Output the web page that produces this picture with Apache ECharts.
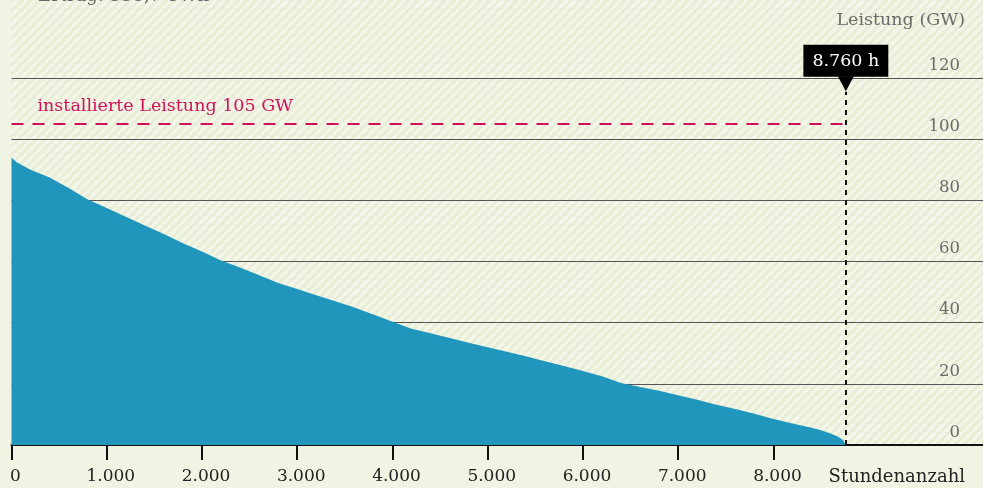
<!DOCTYPE html>
<html><head><meta charset="utf-8">
<script src="https://cdn.jsdelivr.net/npm/echarts@6/dist/echarts.min.js"></script>
<style>html,body{margin:0;padding:0;background:#f0f4e2;}#c{width:983px;height:488px;}</style>
</head><body><div id="c"></div>
<script>
// Data
var hours = [0,50,200,400,600,800,1000,1200,1400,1600,1800,2000,2200,2400,2600,2800,3000,3200,3400,3600,3800,4000,4200,4400,4600,4800,5000,5200,5400,5600,5800,6000,6200,6400,6600,6800,7000,7200,7400,7600,7800,8000,8200,8400,8500,8600,8680,8730,8760];
var power = [94,92.5,90,87.5,84,80.3,77.5,74.6,71.8,69,66,63.3,60.3,58,55.5,53,51,49,47,45,42.7,40.3,38,36.5,35,33.4,32,30.5,29,27.4,25.8,24.2,22.5,20.3,19,17.7,16.3,14.8,13.2,11.8,10.2,8.5,7,5.6,4.8,3.8,2.7,1.6,0];
var xTicks = [0,1000,2000,3000,4000,5000,6000,7000,8000];
var xTickLabels = ['0','1.000','2.000','3.000','4.000','5.000','6.000','7.000','8.000'];
var yTicks = [0,20,40,60,80,100,120];
var installed = 105;
var totalHours = 8760;
var titleText = 'Ertrag: 338,7 TWh';

var FONT = 'DejaVu Serif';
var chart = echarts.init(document.getElementById('c'));

// hatch pattern
var tile = document.createElement('canvas');
var P = 9; tile.width = P; tile.height = P;
var g = tile.getContext('2d');
g.fillStyle = '#e8eed6'; g.fillRect(0,0,P,P);
g.strokeStyle = '#f3f6e8'; g.lineWidth = 3.5;
for (var k=-1;k<=1;k++){ g.beginPath(); g.moveTo(k*P, P); g.lineTo(k*P+P, 0); g.stroke(); }

var data = hours.map(function(h,i){return [h, power[i]];});

chart.setOption({
  animation:false,
  backgroundColor:'#f0f4e2',
  grid:{left:11.5,right:0,top:78,bottom:43},
  graphic:[
    {type:'rect', z:-100, shape:{x:11,y:0,width:972,height:445}, style:{fill:{image:tile, repeat:'repeat'}}},
    {type:'text', left:38, top:-13, style:{text:titleText, font:'18px "DejaVu Serif"', fill:'#6b6b6b'}},
    {type:'text', right:18, top:11, style:{text:'Leistung (GW)', font:'17.5px "DejaVu Serif"', fill:'#6b6b6b'}},
    {type:'text', right:18, top:468, style:{text:'Stundenanzahl', font:'18px "DejaVu Serif"', fill:'#222'}}
  ],
  xAxis:{type:'value', min:0, max:10200, interval:1000,
    axisLine:{lineStyle:{color:'#111',width:2}},
    axisTick:{show:true, length:15, lineStyle:{color:'#111',width:2}, customValues:xTicks},
    axisLabel:{customValues:xTicks, color:'#222', fontFamily:FONT, fontSize:17, margin:23, padding:[0,0,0,8],
      formatter:function(v){var i=xTicks.indexOf(v);return i>=0?xTickLabels[i]:'';}},
    splitLine:{show:false}},
  yAxis:{type:'value', position:'right', min:0, max:120, interval:20,
    axisLine:{show:false}, axisTick:{show:false},
    axisLabel:{inside:true, margin:23, color:'#6b6b6b', fontFamily:FONT, fontSize:16.5, verticalAlign:'bottom', padding:[0,0,4,0]},
    splitLine:{lineStyle:{color:'#555',width:1}}},
  series:[{
    type:'line', data:data, showSymbol:false, symbol:'none',
    lineStyle:{width:0}, areaStyle:{color:'#2196bd', opacity:1},
    markLine:{silent:true, symbol:['none','none'],
      data:[
        [{coord:[0,installed], lineStyle:{color:'#d1105a',type:[12,9],width:2},
          label:{show:true, position:'insideStartTop', formatter:'installierte Leistung 105 GW', color:'#d1105a', fontFamily:FONT, fontSize:17.5, distance:[26,8]}},
         {coord:[totalHours,installed]}],
        [{coord:[totalHours,0], lineStyle:{color:'#111',type:[5,5],width:2},
          label:{show:true, position:'end', formatter:'8.760 h', color:'#fff', backgroundColor:'#000', fontFamily:FONT, fontSize:17.5, padding:[8,9,6,9], distance:15}},
         {coord:[totalHours,115.5]}]
      ]},
    markPoint:{silent:true, symbol:'triangle', symbolRotate:180, symbolSize:[16,15], symbolOffset:[0,-8],
      itemStyle:{color:'#000'}, label:{show:false},
      data:[{coord:[totalHours,115.5]}]}
  }]
});
</script></body></html>
